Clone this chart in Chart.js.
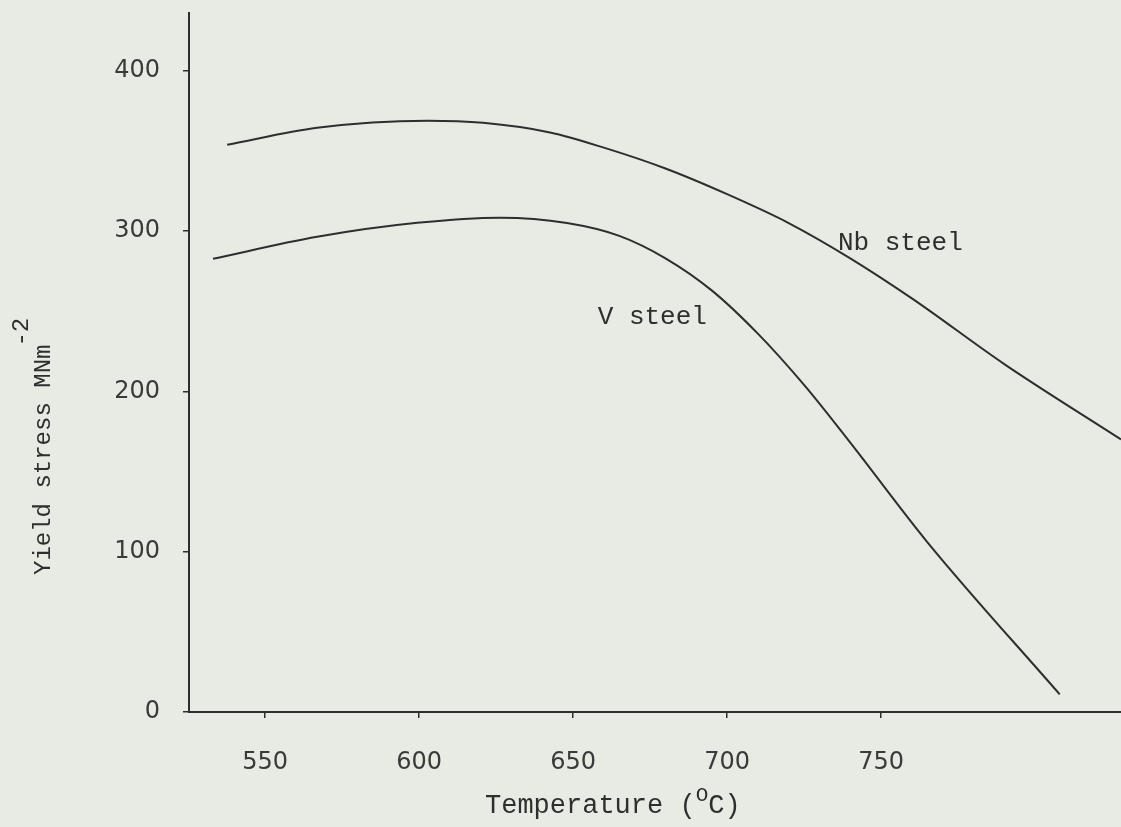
<!DOCTYPE html>
<html>
<head>
<meta charset="utf-8">
<title>Yield stress vs temperature</title>
<script src="https://cdn.jsdelivr.net/npm/chart.js@4.4.1/dist/chart.umd.min.js"></script>
<style>
  html, body { margin: 0; padding: 0; background: #e8ebe3; }
  #wrap { width: 1121px; height: 827px; position: relative; }
</style>
</head>
<body>
<div id="wrap"><canvas id="c"></canvas></div>
<script>
// Temperature (°C) and yield stress (MN m^-2) along each curve
const nbTemp   = [537.7, 566.9, 602.6, 620.8, 642.5, 660.0, 680.0, 700.0, 720.0, 740.0, 760.0, 790.0, 827.9];
const nbStress = [353.8, 364.4, 368.8, 367.5, 361.5, 352.0, 339.0, 323.0, 305.0, 283.0, 258.0, 217.0, 170.0];

const vTemp    = [533.1, 566.9, 599.4, 626.3, 648.0, 665.0, 680.0, 695.0, 710.0, 725.0, 740.0, 765.0, 808.0];
const vStress  = [282.7, 296.4, 305.1, 308.3, 305.0, 297.0, 283.0, 263.0, 236.0, 204.0, 168.0, 106.0, 11.0];

const xTicks = [550, 600, 650, 700, 750];
const yTicks = [0, 100, 200, 300, 400];

const seriesNames = ['Nb steel', 'V steel'];

const INK = '#2e2e2e';
const MONO = '"Liberation Mono", "DejaVu Sans Mono", monospace';

function points(xs, ys) { return xs.map((x, i) => ({ x: x, y: ys[i] })); }

// Typed captions: axis titles with superscripts and curve names
const captions = {
  id: 'captions',
  afterDatasetsDraw(chart, args, opts) {
    const ctx = chart.ctx;
    const xs = chart.scales.x, ys = chart.scales.y;
    ctx.save();
    ctx.fillStyle = INK;
    ctx.textBaseline = 'alphabetic';
    ctx.textAlign = 'left';

    // curve names
    ctx.font = '26px ' + MONO;
    opts.names.forEach(n => {
      ctx.fillText(n.text, xs.getPixelForValue(n.x), ys.getPixelForValue(n.y));
    });

    // x-axis title: Temperature (°C) with raised O
    let x = 485, base = 813;
    ctx.font = '27px ' + MONO;
    const t1 = 'Temperature (';
    ctx.fillText(t1, x, base);
    x += ctx.measureText(t1).width;
    ctx.font = '21px ' + MONO;
    ctx.fillText('O', x, base - 12);
    x += ctx.measureText('O').width;
    ctx.font = '27px ' + MONO;
    ctx.fillText('C)', x, base);

    // y-axis title: Yield stress MNm^-2, reading upwards
    ctx.translate(50, 575);
    ctx.rotate(-Math.PI / 2);
    ctx.font = '24px ' + MONO;
    const t2 = 'Yield stress MNm';
    ctx.fillText(t2, 0, 0);
    const w = ctx.measureText(t2).width;
    ctx.font = '24px ' + MONO;
    ctx.fillText('-2', w - 2, -22);
    ctx.restore();
  }
};

new Chart(document.getElementById('c'), {
  type: 'line',
  data: {
    datasets: [
      { label: seriesNames[0], data: points(nbTemp, nbStress) },
      { label: seriesNames[1], data: points(vTemp, vStress) }
    ]
  },
  options: {
    responsive: true,
    maintainAspectRatio: false,
    animation: false,
    layout: { padding: { top: 13, left: 0, right: 0, bottom: 0 } },
    elements: {
      line: { borderColor: INK, borderWidth: 2, cubicInterpolationMode: 'monotone', fill: false },
      point: { radius: 0, hoverRadius: 0 }
    },
    plugins: {
      legend: { display: false },
      tooltip: { enabled: false },
      captions: {
        names: [
          { text: seriesNames[0], x: 736, y: 288 },
          { text: seriesNames[1], x: 658, y: 242 }
        ]
      }
    },
    scales: {
      x: {
        type: 'linear',
        min: 525.3,
        max: 827.9,
        afterFit(s) { s.height = 115; s.paddingLeft = 0; s.paddingRight = 0; },
        afterBuildTicks(s) { s.ticks = xTicks.map(v => ({ value: v })); },
        grid: { drawOnChartArea: false, drawTicks: true, tickLength: 6, color: INK, lineWidth: 1.5 },
        border: { display: true, color: INK, width: 2 },
        ticks: { color: '#3a3a3a', padding: 30, font: { family: '"DejaVu Sans"', size: 24 } }
      },
      y: {
        type: 'linear',
        min: 0,
        max: 436,
        afterFit(s) { s.width = 189; s.paddingTop = 0; s.paddingBottom = 0; },
        afterBuildTicks(s) { s.ticks = yTicks.map(v => ({ value: v })); },
        grid: { drawOnChartArea: false, drawTicks: true, tickLength: 6, color: INK, lineWidth: 1.5 },
        border: { display: true, color: INK, width: 2 },
        ticks: { color: '#3a3a3a', padding: 23, font: { family: '"DejaVu Sans"', size: 24 } }
      }
    }
  },
  plugins: [captions]
});
</script>
</body>
</html>
